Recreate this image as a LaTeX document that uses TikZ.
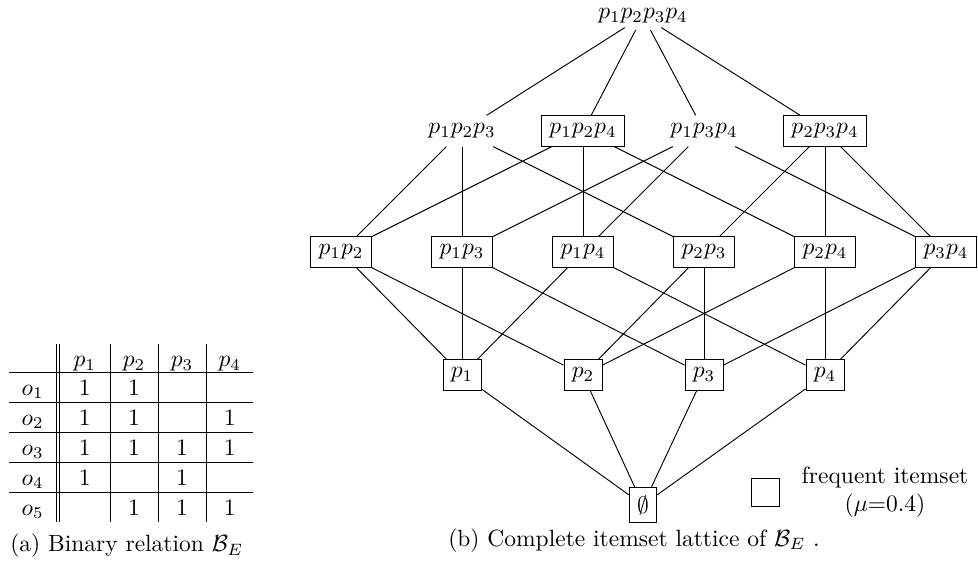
\documentclass[tikz,border=0pt]{standalone}
\begin{document}
\begin{tikzpicture}[x=0.4255pt,y=-0.4255pt,
  fi/.style={draw,inner sep=3.33pt},
  nf/.style={inner sep=3.33pt},
  cell/.style={anchor=base,inner sep=0pt},
  tabrule/.style={line width=0.4pt}]
\useasboundingbox (0,0) rectangle (978,566);

% ---------- table ----------
\foreach \yy in {372.7,402.7,432.7,462.7,492.7}
  \draw[tabrule] (9.3,\yy) -- (253.3,\yy);
\foreach \xx in {56,59.3,110,158,206}
  \draw[tabrule] (\xx,344) -- (\xx,522);
% header
\node[cell] (h1) at (84.7,366.5) {$p_1$};
\node[cell] (h2) at (134,366.5) {$p_2$};
\node[cell] (h3) at (182,366.5) {$p_3$};
\node[cell] (h4) at (229.7,366.5) {$p_4$};
% rows
\node[cell] (o1) at (32.7,395) {$o_1$};
\node[cell] (o2) at (32.7,425) {$o_2$};
\node[cell] (o3) at (32.7,455) {$o_3$};
\node[cell] (o4) at (32.7,485) {$o_4$};
\node[cell] (o5) at (32.7,515) {$o_5$};
\node[cell] (v11) at (84.7,395) {1};
\node[cell] (v12) at (134,395) {1};
\node[cell] (v21) at (84.7,425) {1};
\node[cell] (v22) at (134,425) {1};
\node[cell] (v24) at (229.7,425) {1};
\node[cell] (v31) at (84.7,455) {1};
\node[cell] (v32) at (134,455) {1};
\node[cell] (v33) at (182,455) {1};
\node[cell] (v34) at (229.7,455) {1};
\node[cell] (v41) at (84.7,485) {1};
\node[cell] (v43) at (182,485) {1};
\node[cell] (v52) at (134,515) {1};
\node[cell] (v53) at (182,515) {1};
\node[cell] (v54) at (229.7,515) {1};
\node[cell] (capa) at (126.7,551.7) {(a) Binary relation $\mathcal{B}_E$};

% ---------- lattice ----------
\node[inner sep=0pt] (top) at (643,16) {$p_1p_2p_3p_4$};
\node[nf] (a123) at (462,131) {$p_1p_2p_3$};
\node[fi] (a124) at (583,131) {$p_1p_2p_4$};
\node[nf] (a134) at (704,131) {$p_1p_3p_4$};
\node[fi] (a234) at (825,131) {$p_2p_3p_4$};
\node[fi] (b12) at (341,252) {$p_1p_2$};
\node[fi] (b13) at (462,252) {$p_1p_3$};
\node[fi] (b14) at (583,252) {$p_1p_4$};
\node[fi] (b23) at (704,252) {$p_2p_3$};
\node[fi] (b24) at (825,252) {$p_2p_4$};
\node[fi] (b34) at (946,252) {$p_3p_4$};
\node[fi] (c1) at (462,375) {$p_1$};
\node[fi] (c2) at (583,375) {$p_2$};
\node[fi] (c3) at (704,375) {$p_3$};
\node[fi] (c4) at (825,375) {$p_4$};
\node[fi] (e) at (643,505) {$\emptyset$};

\foreach \b in {a123,a124,a134,a234}
  \draw[shorten <=3pt] (top) -- (\b);
\foreach \a/\b in {
  a123/b12,a123/b13,a123/b23,a124/b12,a124/b14,a124/b24,
  a134/b13,a134/b14,a134/b34,a234/b23,a234/b24,a234/b34,
  b12/c1,b12/c2,b13/c1,b13/c3,b14/c1,b14/c4,
  b23/c2,b23/c3,b24/c2,b24/c4,b34/c3,b34/c4,
  c1/e,c2/e,c3/e,c4/e}
  \draw (\a) -- (\b);

% legend
\node[draw,minimum size=11.9pt,inner sep=0pt] (legbox) at (765.5,492.5) {};
\node[align=center,inner sep=0pt] (legtxt) at (885,492) {frequent itemset\\($\mu$=0.4)};

\node[cell] (capb) at (634,546) {(b) Complete itemset lattice of $\mathcal{B}_E$ .};
\end{tikzpicture}
\end{document}
